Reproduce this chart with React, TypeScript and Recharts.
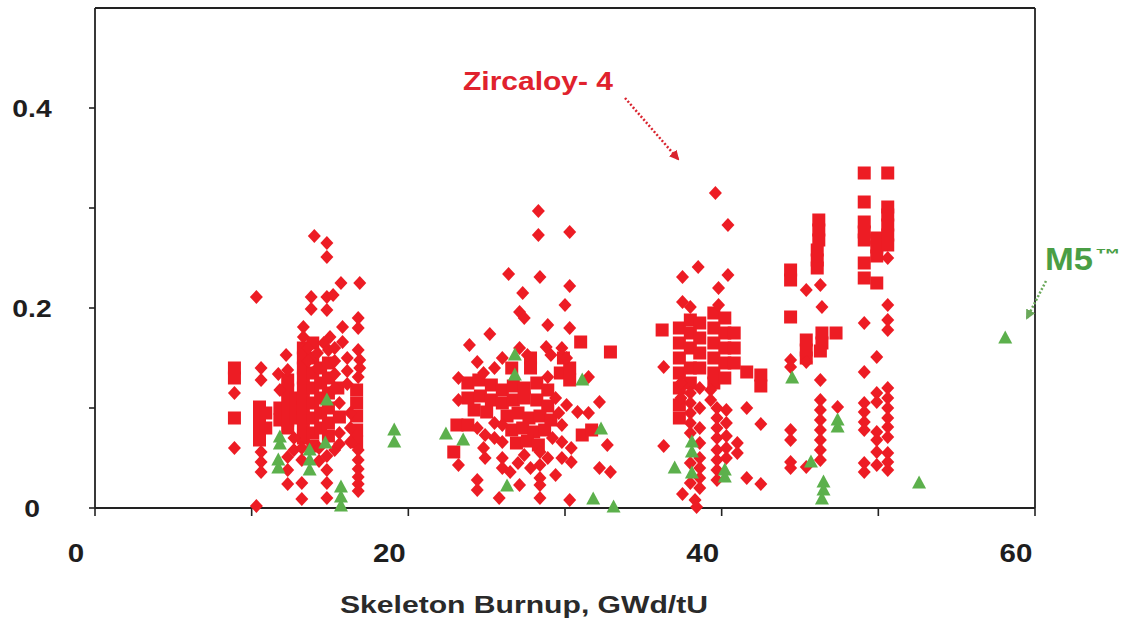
import React from 'react';
import { ScatterChart, Scatter, XAxis, YAxis, ReferenceLine } from 'recharts';

const RED = '#ed1c24';
const GREEN = '#5cb04c';
const AXIS = '#222222';
const FONT = '"Liberation Sans", Arial, sans-serif';

const xTicks = [0, 10, 20, 30, 40, 50, 60];
const xLabels = [0, 20, 40, 60];
const yTicks = [0, 0.1, 0.2, 0.3, 0.4];
const yLabels = [0, 0.2, 0.4];

// Zircaloy-4, diamond markers [burnup, value]
const zircDiamonds = [
  [8.9, 0.115], [8.9, 0.06], [10.3, 0.211], [10.3, 0.002],
  [10.6, 0.14], [10.6, 0.128], [10.6, 0.056], [10.6, 0.046], [10.6, 0.036],
  [11.7, 0.134], [11.8, 0.118], [12.2, 0.153], [12.3, 0.138], [12.3, 0.051], [12.3, 0.038], [12.3, 0.024],
  [12.7, 0.07], [12.7, 0.058], [13.2, 0.06], [13.2, 0.048], [13.2, 0.025], [13.2, 0.009],
  [13.3, 0.181], [13.3, 0.171], [13.6, 0.16], [13.6, 0.147], [13.8, 0.211], [13.8, 0.199], [14.0, 0.272],
  [14.2, 0.155], [14.2, 0.14], [14.3, 0.06], [14.3, 0.047], [14.6, 0.165],
  [14.8, 0.265], [14.8, 0.251], [14.8, 0.211], [15.2, 0.213], [14.8, 0.198], [15.0, 0.171], [14.9, 0.158],
  [14.8, 0.052], [14.8, 0.038], [14.8, 0.025], [14.8, 0.01],
  [15.3, 0.16], [15.3, 0.147], [15.3, 0.134], [15.3, 0.12], [15.3, 0.058],
  [15.6, 0.105], [15.6, 0.075], [15.6, 0.064], [15.7, 0.225], [15.8, 0.181], [15.8, 0.166],
  [16.1, 0.15], [16.1, 0.137], [16.1, 0.124], [16.3, 0.095], [16.3, 0.08], [16.3, 0.066],
  [16.9, 0.225], [16.8, 0.19], [16.8, 0.18], [16.8, 0.158], [16.9, 0.148], [16.9, 0.14], [16.8, 0.131],
  [16.8, 0.058], [16.8, 0.048], [16.8, 0.039], [16.8, 0.031], [16.8, 0.024], [16.8, 0.017],
  [23.2, 0.13], [23.2, 0.108], [23.2, 0.043], [23.9, 0.163], [24.4, 0.146], [24.4, 0.08], [24.4, 0.028], [24.4, 0.018],
  [24.8, 0.135], [24.8, 0.06], [24.9, 0.073], [24.9, 0.05], [25.2, 0.174], [25.5, 0.14], [25.5, 0.085], [25.5, 0.07], [25.8, 0.01],
  [26.0, 0.15], [26.0, 0.083], [26.0, 0.066], [26.0, 0.05], [26.0, 0.04], [26.4, 0.234], [26.5, 0.036],
  [27.0, 0.045], [27.1, 0.196], [27.1, 0.16], [27.1, 0.023], [27.3, 0.215], [27.4, 0.19], [27.4, 0.053],
  [27.6, 0.153], [27.8, 0.04], [28.3, 0.297], [28.3, 0.273], [28.4, 0.231], [28.4, 0.056], [28.4, 0.043],
  [28.4, 0.03], [28.4, 0.023], [28.4, 0.01], [28.8, 0.161], [28.9, 0.183], [28.9, 0.131], [28.9, 0.05],
  [29.1, 0.153], [29.2, 0.07], [29.4, 0.11], [29.4, 0.033], [29.6, 0.095],
  [29.8, 0.16], [29.8, 0.083], [29.8, 0.066], [29.8, 0.05], [30.0, 0.203], [30.1, 0.15], [30.1, 0.103],
  [30.3, 0.276], [30.3, 0.222], [30.3, 0.18], [30.3, 0.008], [30.4, 0.06], [30.4, 0.046],
  [30.8, 0.096], [31.5, 0.131], [31.5, 0.095], [32.2, 0.106], [32.2, 0.04], [32.7, 0.063], [32.9, 0.036],
  [36.3, 0.141], [36.3, 0.062], [37.4, 0.125], [37.4, 0.11], [37.5, 0.231], [37.5, 0.206], [37.5, 0.014],
  [38.0, 0.201], [38.0, 0.115], [38.0, 0.105], [38.0, 0.095], [38.0, 0.085], [38.0, 0.075], [38.0, 0.045], [38.0, 0.025],
  [38.3, 0.008], [38.4, 0.001], [38.5, 0.241],
  [38.6, 0.12], [38.6, 0.1], [38.6, 0.08], [38.6, 0.065], [38.6, 0.05], [38.6, 0.04], [38.6, 0.03], [38.6, 0.02],
  [39.3, 0.118], [39.3, 0.108], [39.6, 0.315], [39.8, 0.22], [39.8, 0.203],
  [39.7, 0.1], [39.7, 0.09], [39.7, 0.08], [39.7, 0.07], [39.7, 0.058], [39.7, 0.048], [39.7, 0.038], [39.7, 0.028],
  [40.3, 0.098], [40.3, 0.085], [40.3, 0.072], [40.3, 0.06], [40.3, 0.05], [40.4, 0.283], [40.4, 0.233],
  [41.0, 0.065], [41.0, 0.055], [41.6, 0.1], [41.6, 0.03], [42.5, 0.084], [42.5, 0.024],
  [44.4, 0.148], [44.4, 0.141], [44.4, 0.078], [44.4, 0.068], [44.4, 0.046], [44.4, 0.04],
  [45.4, 0.218], [45.4, 0.146], [45.4, 0.041],
  [46.3, 0.223], [46.4, 0.201], [46.3, 0.128], [46.3, 0.108], [46.3, 0.098], [46.3, 0.088], [46.3, 0.078],
  [46.3, 0.068], [46.3, 0.058], [46.3, 0.048], [47.4, 0.101],
  [49.1, 0.185], [49.1, 0.136], [49.1, 0.105], [49.1, 0.096], [49.1, 0.086], [49.1, 0.078], [49.1, 0.045], [49.1, 0.036],
  [49.9, 0.151], [49.9, 0.115], [49.9, 0.106], [49.9, 0.076], [49.9, 0.068], [49.9, 0.056], [49.9, 0.043],
  [50.6, 0.25], [50.6, 0.203], [50.6, 0.188], [50.6, 0.178], [50.6, 0.12], [50.6, 0.11], [50.6, 0.1],
  [50.6, 0.09], [50.6, 0.081], [50.6, 0.071], [50.6, 0.055], [50.6, 0.046], [50.6, 0.038],
];

// Zircaloy-4, square markers
const zircSquares = [
  [8.9, 0.14], [8.9, 0.13], [8.9, 0.09],
  [10.5, 0.101], [10.5, 0.092], [10.5, 0.083], [10.5, 0.075], [10.5, 0.068], [10.9, 0.095], [10.9, 0.08],
  [11.8, 0.1], [11.8, 0.088],
  [12.3, 0.128], [12.3, 0.118], [12.3, 0.108], [12.3, 0.098], [12.3, 0.088], [12.3, 0.08],
  [12.8, 0.11], [12.8, 0.1], [12.8, 0.09],
  [13.3, 0.16], [13.3, 0.15], [13.3, 0.14], [13.3, 0.13], [13.3, 0.12], [13.3, 0.11], [13.3, 0.1], [13.3, 0.09], [13.3, 0.08], [13.3, 0.07],
  [13.9, 0.165], [13.9, 0.15], [13.9, 0.135], [13.9, 0.12], [13.9, 0.105], [13.9, 0.09], [13.9, 0.075], [13.9, 0.062],
  [14.4, 0.14], [14.4, 0.125], [14.4, 0.11], [14.4, 0.095], [14.4, 0.08],
  [14.9, 0.145], [14.9, 0.13], [14.9, 0.115], [14.9, 0.1], [14.9, 0.085], [14.9, 0.072],
  [15.5, 0.12], [15.6, 0.091],
  [16.7, 0.118], [16.7, 0.105], [16.7, 0.092], [16.7, 0.078], [16.7, 0.066],
  [22.9, 0.056], [23.1, 0.083], [23.8, 0.083],
  [23.8, 0.125], [24.5, 0.128], [25.3, 0.123], [23.8, 0.11], [24.6, 0.112], [25.3, 0.108], [24.2, 0.098], [25.0, 0.096],
  [26.0, 0.118], [26.7, 0.122], [27.4, 0.12], [28.2, 0.125], [28.9, 0.118],
  [26.0, 0.105], [26.7, 0.108], [27.4, 0.11], [28.2, 0.108], [28.9, 0.102],
  [26.3, 0.092], [27.0, 0.095], [27.7, 0.09], [28.4, 0.092], [29.1, 0.088],
  [26.6, 0.078], [27.3, 0.08], [28.0, 0.076], [28.7, 0.078],
  [26.9, 0.065], [27.6, 0.067], [28.3, 0.063],
  [26.6, 0.14], [27.8, 0.15], [27.8, 0.14],
  [29.7, 0.135], [29.9, 0.15], [30.3, 0.14], [30.3, 0.128],
  [31.0, 0.166], [32.9, 0.156], [31.1, 0.073], [31.7, 0.078],
  [36.2, 0.178],
  [37.3, 0.18], [37.3, 0.165], [37.3, 0.15], [37.3, 0.135], [37.3, 0.12], [37.3, 0.103], [37.3, 0.09],
  [38.0, 0.188], [38.0, 0.175], [38.0, 0.16], [38.0, 0.14], [38.0, 0.125],
  [38.6, 0.185], [38.6, 0.17], [38.6, 0.155], [38.6, 0.14],
  [39.5, 0.195], [39.5, 0.18], [39.5, 0.165], [39.5, 0.15], [39.5, 0.135], [39.5, 0.125],
  [40.2, 0.19], [40.2, 0.175], [40.2, 0.16], [40.2, 0.145], [40.2, 0.13],
  [40.8, 0.175], [40.8, 0.16], [40.8, 0.145],
  [41.6, 0.136], [42.5, 0.133], [42.5, 0.122],
  [44.4, 0.238], [44.4, 0.228], [44.4, 0.191],
  [45.4, 0.168], [45.4, 0.158], [45.4, 0.15],
  [46.2, 0.288], [46.2, 0.278], [46.2, 0.268], [46.1, 0.258], [46.1, 0.248], [46.1, 0.24],
  [46.4, 0.175], [46.4, 0.165], [46.3, 0.157], [47.3, 0.175],
  [49.1, 0.335], [49.1, 0.306], [49.1, 0.286], [49.1, 0.276], [49.1, 0.268], [49.1, 0.245], [49.1, 0.23],
  [49.9, 0.27], [49.9, 0.261], [49.9, 0.252], [49.9, 0.225],
  [50.6, 0.335], [50.6, 0.301], [50.6, 0.293], [50.6, 0.283], [50.6, 0.273], [50.6, 0.263],
];

// M5, triangle markers
const m5Triangles = [
  [11.8, 0.071], [11.8, 0.064], [11.7, 0.048], [11.7, 0.04],
  [13.7, 0.058], [13.7, 0.048], [13.7, 0.038], [14.8, 0.108], [14.7, 0.065],
  [15.7, 0.021], [15.7, 0.011], [15.7, 0.002], [19.1, 0.078], [19.1, 0.066],
  [22.4, 0.074], [23.5, 0.068], [26.8, 0.153], [26.8, 0.133], [26.3, 0.022],
  [31.1, 0.128], [32.3, 0.079], [31.8, 0.009], [33.1, 0.001],
  [37.0, 0.04], [38.1, 0.066], [38.1, 0.056], [38.1, 0.035], [40.2, 0.038], [40.2, 0.031],
  [44.5, 0.13], [45.7, 0.046], [46.5, 0.026], [46.5, 0.018], [46.4, 0.009], [47.4, 0.088], [47.4, 0.081],
  [52.6, 0.025], [58.1, 0.17],
];

const toPts = (arr: number[][]) => arr.map(([x, y]) => ({ x, y }));

const Diamond = (p: any) => (
  <path d={`M${p.cx},${p.cy - 7}L${p.cx + 6.5},${p.cy}L${p.cx},${p.cy + 7}L${p.cx - 6.5},${p.cy}Z`} fill={RED} />
);
const Square = (p: any) => <rect x={p.cx - 6.5} y={p.cy - 6.5} width={13} height={13} fill={RED} />;
const Triangle = (p: any) => (
  <path d={`M${p.cx},${p.cy - 7.5}L${p.cx + 7},${p.cy + 5.5}L${p.cx - 7},${p.cy + 5.5}Z`} fill={GREEN} />
);

const XTick = (props: any) => {
  const { x, payload } = props;
  if (!xLabels.includes(payload.value)) return <g />;
  return (
    <g transform={`translate(${x - 19},562) scale(1.18,1)`}>
      <text textAnchor="middle" fontSize={25} fontWeight="bold" fill="#1e1e1e" fontFamily={FONT}>
        {payload.value}
      </text>
    </g>
  );
};

const YTick = (props: any) => {
  const { y, payload } = props;
  if (!yLabels.includes(payload.value)) return <g />;
  return (
    <g transform={`translate(32,${y + 9}) scale(1.18,1)`}>
      <text textAnchor="middle" fontSize={24} fontWeight="bold" fill="#1e1e1e" fontFamily={FONT}>
        {payload.value}
      </text>
    </g>
  );
};

export default function App() {
  return (
    <div style={{ position: 'absolute', left: 0, top: 0, width: 1126, height: 620, background: '#fff' }}>
      <ScatterChart width={1126} height={620} margin={{ top: 8, right: 91, bottom: 0, left: 0 }}>
        <XAxis
          type="number"
          dataKey="x"
          domain={[0, 60]}
          ticks={xTicks}
          height={112}
          tickSize={8}
          axisLine={{ stroke: AXIS, strokeWidth: 1.8 }}
          tickLine={{ stroke: AXIS, strokeWidth: 1.6 }}
          tick={XTick}
        />
        <YAxis
          type="number"
          dataKey="y"
          domain={[0, 0.5]}
          ticks={yTicks}
          width={95}
          tickSize={6}
          axisLine={{ stroke: AXIS, strokeWidth: 1.8 }}
          tickLine={{ stroke: AXIS, strokeWidth: 1.6 }}
          tick={YTick}
        />
        <ReferenceLine y={0.5} stroke={AXIS} strokeWidth={1.8} />
        <ReferenceLine x={60} stroke={AXIS} strokeWidth={1.8} />
        <Scatter data={toPts(zircSquares)} shape={Square} isAnimationActive={false} />
        <Scatter data={toPts(zircDiamonds)} shape={Diamond} isAnimationActive={false} />
        <Scatter data={toPts(m5Triangles)} shape={Triangle} isAnimationActive={false} />
      </ScatterChart>
      <svg
        width={1126}
        height={620}
        style={{ position: 'absolute', left: 0, top: 0, pointerEvents: 'none' }}
      >
        <defs>
          <marker id="redHead" viewBox="0 0 10 10" refX="8" refY="5" markerWidth="4" markerHeight="4" orient="auto">
            <path d="M0,0L10,5L0,10Z" fill="#d9232e" />
          </marker>
          <marker id="greenHead" viewBox="0 0 10 10" refX="8" refY="5" markerWidth="4" markerHeight="4" orient="auto">
            <path d="M0,0L10,5L0,10Z" fill="#6aa85a" />
          </marker>
        </defs>
        <text x={340} y={613} fontSize={24} fontWeight="bold" fill="#2a2a2a" fontFamily={FONT} textLength={368} lengthAdjust="spacingAndGlyphs">
          Skeleton Burnup, GWd/tU
        </text>
        <text x={463} y={90} fontSize={26} fontWeight="bold" fill="#e0222d" fontFamily={FONT} textLength={150} lengthAdjust="spacingAndGlyphs">
          Zircaloy- 4
        </text>
        <line x1={625} y1={98} x2={678} y2={159} stroke="#d9232e" strokeWidth={2.5} strokeDasharray="2 2" markerEnd="url(#redHead)" />
        <text x={1045} y={270} fontSize={32} fontWeight="bold" fill="#4a9e45" fontFamily={FONT} textLength={48} lengthAdjust="spacingAndGlyphs">
          M5
        </text>
        <text x={1095} y={259} fontSize={15} fontWeight="bold" fill="#4a9e45" fontFamily={FONT} textLength={26} lengthAdjust="spacingAndGlyphs">
          ™
        </text>
        <line x1={1046} y1={281} x2={1027} y2={318} stroke="#6aa85a" strokeWidth={2.5} strokeDasharray="2 2" markerEnd="url(#greenHead)" />
      </svg>
    </div>
  );
}
